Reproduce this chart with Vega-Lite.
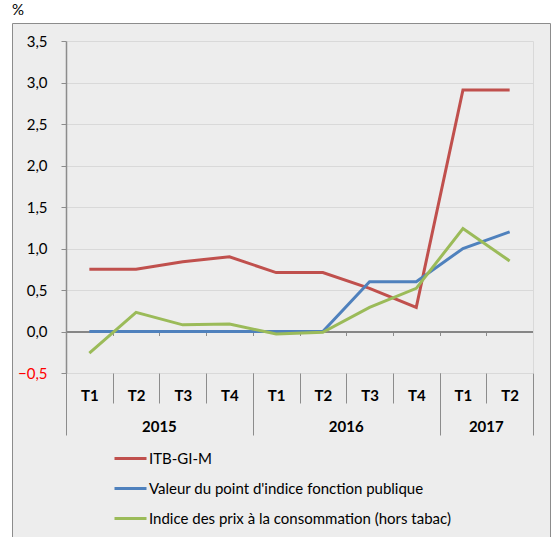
{
  "$schema": "https://vega.github.io/schema/vega-lite/v6.json",
  "autosize": "none",
  "width": 538,
  "height": 516,
  "padding": {"left": 12, "top": 23, "right": 5, "bottom": 0},
  "background": "#ffffff",
  "config": {
    "font": "Lato",
    "view": {"fill": "#ededed", "stroke": "#8c8c8c", "strokeWidth": 1},
    "axis": {"labelFont": "Lato", "labelFontSize": 15, "labelColor": "#000000"}
  },
  "title": {"text": "%", "anchor": "start", "frame": "group", "fontSize": 15, "fontWeight": "normal", "font": "Lato", "color": "#000000", "offset": 5},
  "data": {"values": [
    {"q": "2015-T1", "s": "ITB-GI-M", "v": 0.75},
    {"q": "2015-T2", "s": "ITB-GI-M", "v": 0.75},
    {"q": "2015-T3", "s": "ITB-GI-M", "v": 0.84},
    {"q": "2015-T4", "s": "ITB-GI-M", "v": 0.90},
    {"q": "2016-T1", "s": "ITB-GI-M", "v": 0.71},
    {"q": "2016-T2", "s": "ITB-GI-M", "v": 0.71},
    {"q": "2016-T3", "s": "ITB-GI-M", "v": 0.52},
    {"q": "2016-T4", "s": "ITB-GI-M", "v": 0.29},
    {"q": "2017-T1", "s": "ITB-GI-M", "v": 2.91},
    {"q": "2017-T2", "s": "ITB-GI-M", "v": 2.91},
    {"q": "2015-T1", "s": "Valeur du point d'indice fonction publique", "v": 0},
    {"q": "2015-T2", "s": "Valeur du point d'indice fonction publique", "v": 0},
    {"q": "2015-T3", "s": "Valeur du point d'indice fonction publique", "v": 0},
    {"q": "2015-T4", "s": "Valeur du point d'indice fonction publique", "v": 0},
    {"q": "2016-T1", "s": "Valeur du point d'indice fonction publique", "v": 0},
    {"q": "2016-T2", "s": "Valeur du point d'indice fonction publique", "v": 0},
    {"q": "2016-T3", "s": "Valeur du point d'indice fonction publique", "v": 0.6},
    {"q": "2016-T4", "s": "Valeur du point d'indice fonction publique", "v": 0.6},
    {"q": "2017-T1", "s": "Valeur du point d'indice fonction publique", "v": 1.0},
    {"q": "2017-T2", "s": "Valeur du point d'indice fonction publique", "v": 1.2},
    {"q": "2015-T1", "s": "Indice des prix à la consommation (hors tabac)", "v": -0.26},
    {"q": "2015-T2", "s": "Indice des prix à la consommation (hors tabac)", "v": 0.23},
    {"q": "2015-T3", "s": "Indice des prix à la consommation (hors tabac)", "v": 0.08},
    {"q": "2015-T4", "s": "Indice des prix à la consommation (hors tabac)", "v": 0.09},
    {"q": "2016-T1", "s": "Indice des prix à la consommation (hors tabac)", "v": -0.03},
    {"q": "2016-T2", "s": "Indice des prix à la consommation (hors tabac)", "v": -0.01},
    {"q": "2016-T3", "s": "Indice des prix à la consommation (hors tabac)", "v": 0.29},
    {"q": "2016-T4", "s": "Indice des prix à la consommation (hors tabac)", "v": 0.52},
    {"q": "2017-T1", "s": "Indice des prix à la consommation (hors tabac)", "v": 1.24},
    {"q": "2017-T2", "s": "Indice des prix à la consommation (hors tabac)", "v": 0.85}
  ]},
  "resolve": {"axis": {"x": "independent", "y": "independent"}},
  "layer": [
    {
      "mark": {"type": "line", "strokeWidth": 3},
      "encoding": {
        "x": {"field": "q", "type": "ordinal", "bandPosition": 0.5, "sort": null,
          "scale": {"type": "band", "range": [54, 521], "paddingInner": 0, "paddingOuter": 0},
          "axis": {"orient": "bottom", "offset": -166, "tickBand": "extent", "tickSize": 30, "tickColor": "#8c8c8c", "tickWidth": 1,
            "domain": false, "grid": false, "labelAngle": 0, "labelFontWeight": "bold", "labelBaseline": "middle", "labelPadding": -8,
            "labelExpr": "split(datum.value, '-')[1]", "title": null}},
        "y": {"field": "v", "type": "quantitative",
          "scale": {"domain": [-0.5, 3.5], "range": [350, 18], "nice": false, "zero": false},
          "axis": {"orient": "left", "offset": -54, "values": [-0.5, 0, 0.5, 1, 1.5, 2, 2.5, 3, 3.5],
            "labelExpr": "replace(format(datum.value, '.1f'), '.', ',')",
            "labelColor": {"condition": {"test": "datum.value < 0", "value": "#ff0000"}, "value": "#000000"},
            "domainColor": "#8c8c8c", "domainWidth": 1.5, "tickColor": "#8c8c8c", "tickSize": 5, "labelPadding": 14,
            "grid": true, "gridColor": "#d9d9d9", "gridWidth": 1, "title": null}},
        "color": {"field": "s", "type": "nominal", "sort": null,
          "scale": {"domain": ["ITB-GI-M", "Valeur du point d'indice fonction publique", "Indice des prix à la consommation (hors tabac)"],
            "range": ["#c0504d", "#4f81bd", "#9bbb59"]},
          "legend": {"orient": "none", "legendX": 101, "legendY": 418, "title": null, "symbolType": "stroke", "symbolSize": 1024,
            "symbolStrokeWidth": 3, "labelFontSize": 15, "labelFont": "Lato", "labelColor": "#000000", "labelOffset": 1, "labelLimit": 500,
            "rowPadding": 4, "padding": 0}}
      }
    },
    {
      "mark": {"type": "point", "opacity": 0},
      "encoding": {
        "x": {"field": "q", "type": "ordinal", "sort": null,
          "axis": {"orient": "bottom", "offset": -207.5, "tickBand": "extent", "tickSize": 4, "tickColor": "#8c8c8c", "domain": true,
            "domainColor": "#868686", "domainWidth": 1.8, "labels": false, "grid": false, "title": null}},
        "y": {"field": "v", "type": "quantitative",
          "axis": {"orient": "right", "offset": -17, "domain": true, "domainColor": "#d9d9d9", "domainWidth": 1, "ticks": false, "labels": false, "grid": false, "title": null}}
      }
    },
    {
      "mark": {"type": "point", "opacity": 0},
      "encoding": {
        "x": {"field": "q", "type": "ordinal", "sort": null,
          "axis": {"orient": "bottom", "offset": -166, "values": ["2015-T4", "2016-T4", "2017-T2"], "tickOffset": 23.35, "tickSize": 62,
            "tickColor": "#8c8c8c", "tickWidth": 1, "domain": false, "labels": false, "grid": false, "title": null}},
        "y": {"field": "v", "type": "quantitative", "axis": null}
      }
    },
    {
      "mark": {"type": "point", "opacity": 0},
      "encoding": {
        "x": {"field": "q", "type": "ordinal", "sort": null,
          "axis": {"orient": "bottom", "offset": -166, "values": ["2015-T1"], "tickOffset": -23.35, "tickSize": 62,
            "tickColor": "#8c8c8c", "tickWidth": 1, "domain": false, "labels": false, "grid": false, "title": null}},
        "y": {"field": "v", "type": "quantitative", "axis": null}
      }
    },
    {
      "mark": {"type": "point", "opacity": 0},
      "encoding": {
        "x": {"field": "q", "type": "ordinal", "sort": null,
          "axis": {"orient": "bottom", "offset": -166, "values": ["2015-T2", "2016-T2", "2017-T1"], "ticks": false, "domain": false,
            "labelOffset": 23.35, "labelPadding": 53, "labelBaseline": "middle", "labelAngle": 0, "labelFontWeight": "bold",
            "labelExpr": "split(datum.value, '-')[0]", "grid": false, "title": null}},
        "y": {"field": "v", "type": "quantitative", "axis": null}
      }
    }
  ]
}
